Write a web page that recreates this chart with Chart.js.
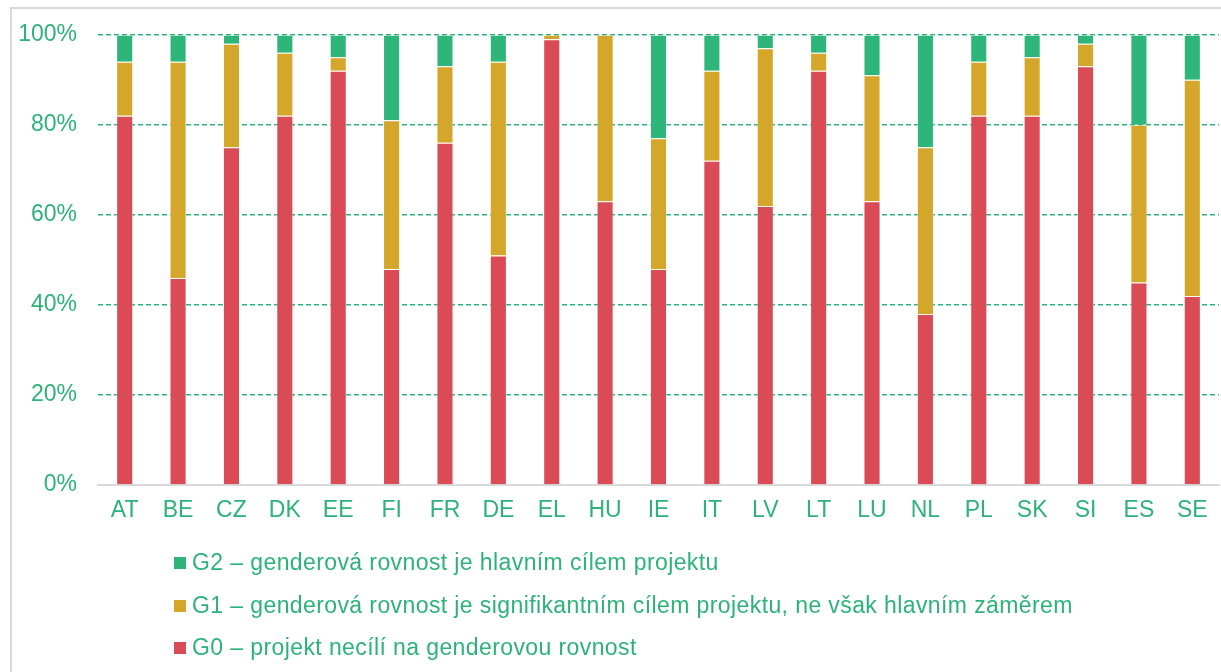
<!DOCTYPE html>
<html>
<head>
<meta charset="utf-8">
<script src="https://cdn.jsdelivr.net/npm/chart.js@4"></script>
<style>
  html, body { margin: 0; padding: 0; background: #fff; }
  body { width: 1221px; height: 672px; position: relative; overflow: hidden; font-family: "Liberation Sans", Arial, sans-serif; }
  #frame { position: absolute; left: 10px; top: 7px; width: 1300px; height: 800px; border-left: 2px solid #d9d9d9; border-top: 2px solid #d9d9d9; }
  #wrap { position: absolute; left: 0; top: 0; width: 1221px; height: 672px; }
  #legend { position: absolute; left: 174px; top: 547px; }
  .item { height: 42.5px; display: flex; align-items: flex-start; color: #2DB27A; font-size: 23px; letter-spacing: 0.4px; line-height: 30px; }
  .box { width: 12px; height: 12px; margin-top: 10px; margin-right: 6px; }
</style>
</head>
<body>
<div id="frame"></div>
<div id="wrap"><canvas id="chart" width="1221" height="672"></canvas></div>
<div id="legend"></div>
<script>
const countries = ['AT', 'BE', 'CZ', 'DK', 'EE', 'FI', 'FR', 'DE', 'EL', 'HU', 'IE', 'IT', 'LV', 'LT', 'LU', 'NL', 'PL', 'SK', 'SI', 'ES', 'SE'];
const g0 = [82, 46, 75, 82, 92, 48, 76, 51, 99, 63, 48, 72, 62, 92, 63, 38, 82, 82, 93, 45, 42];
const g1 = [12, 48, 23, 14, 3, 33, 17, 43, 1, 37, 29, 20, 35, 4, 28, 37, 12, 13, 5, 35, 48];
const g2 = [6, 6, 2, 4, 5, 19, 7, 6, 0, 0, 23, 8, 3, 4, 9, 25, 6, 5, 2, 20, 10];
const seriesNames = [
    'G0 – projekt necílí na genderovou rovnost',
    'G1 – genderová rovnost je signifikantním cílem projektu, ne však hlavním záměrem',
    'G2 – genderová rovnost je hlavním cílem projektu'
];
const yTicks = [0, 20, 40, 60, 80, 100];

const green = '#2DB27A';
const colors = ['#DA4B55', '#D4A62A', '#2DB57A'];
const textColor = '#2DB27A';
const font = { family: '"Liberation Sans", Arial, sans-serif', size: 23 };

const ctx = document.getElementById('chart').getContext('2d');
const chart = new Chart(ctx, {
    type: 'bar',
    data: {
        labels: countries,
        datasets: [g0, g1, g2].map((d, i) => ({
            label: seriesNames[i],
            data: d,
            backgroundColor: colors[i],
            borderColor: 'rgba(255,255,255,0.35)',
            borderWidth: 1,
            barPercentage: 0.64,
            categoryPercentage: 0.5,
        }))
    },
    options: {
        responsive: false,
        animation: false,
        layout: { padding: { top: 33, right: 2, left: 0, bottom: 0 } },
        scales: {
            x: {
                stacked: true,
                grid: { display: false, drawTicks: false },
                border: { display: true, color: '#D9D9D9', width: 2 },
                ticks: { color: textColor, font: font, padding: 12, maxRotation: 0, autoSkip: false },
                afterFit: (scale) => { scale.height = 187; }
            },
            y: {
                stacked: true,
                min: 0,
                max: 100,
                afterBuildTicks: (scale) => { scale.ticks = yTicks.map(v => ({ value: v })); },
                grid: {
                    drawTicks: false,
                    color: (c) => c.tick && c.tick.value === 0 ? 'rgba(0,0,0,0)' : green,
                    lineWidth: 1.5,
                },
                border: { display: false, dash: [5, 3] },
                ticks: {
                    color: textColor,
                    font: font,
                    padding: 21,
                    callback: (v) => v + '%'
                },
                afterFit: (scale) => { scale.width = 98; }
            }
        },
        plugins: {
            legend: { display: false },
            tooltip: { enabled: false }
        }
    }
});

// legend, top series first
const legend = document.getElementById('legend');
for (let i = seriesNames.length - 1; i >= 0; i--) {
    const item = document.createElement('div');
    item.className = 'item';
    const box = document.createElement('span');
    box.className = 'box';
    box.style.background = colors[i];
    const txt = document.createElement('span');
    txt.textContent = seriesNames[i];
    item.appendChild(box);
    item.appendChild(txt);
    legend.appendChild(item);
}
</script>
</body>
</html>
